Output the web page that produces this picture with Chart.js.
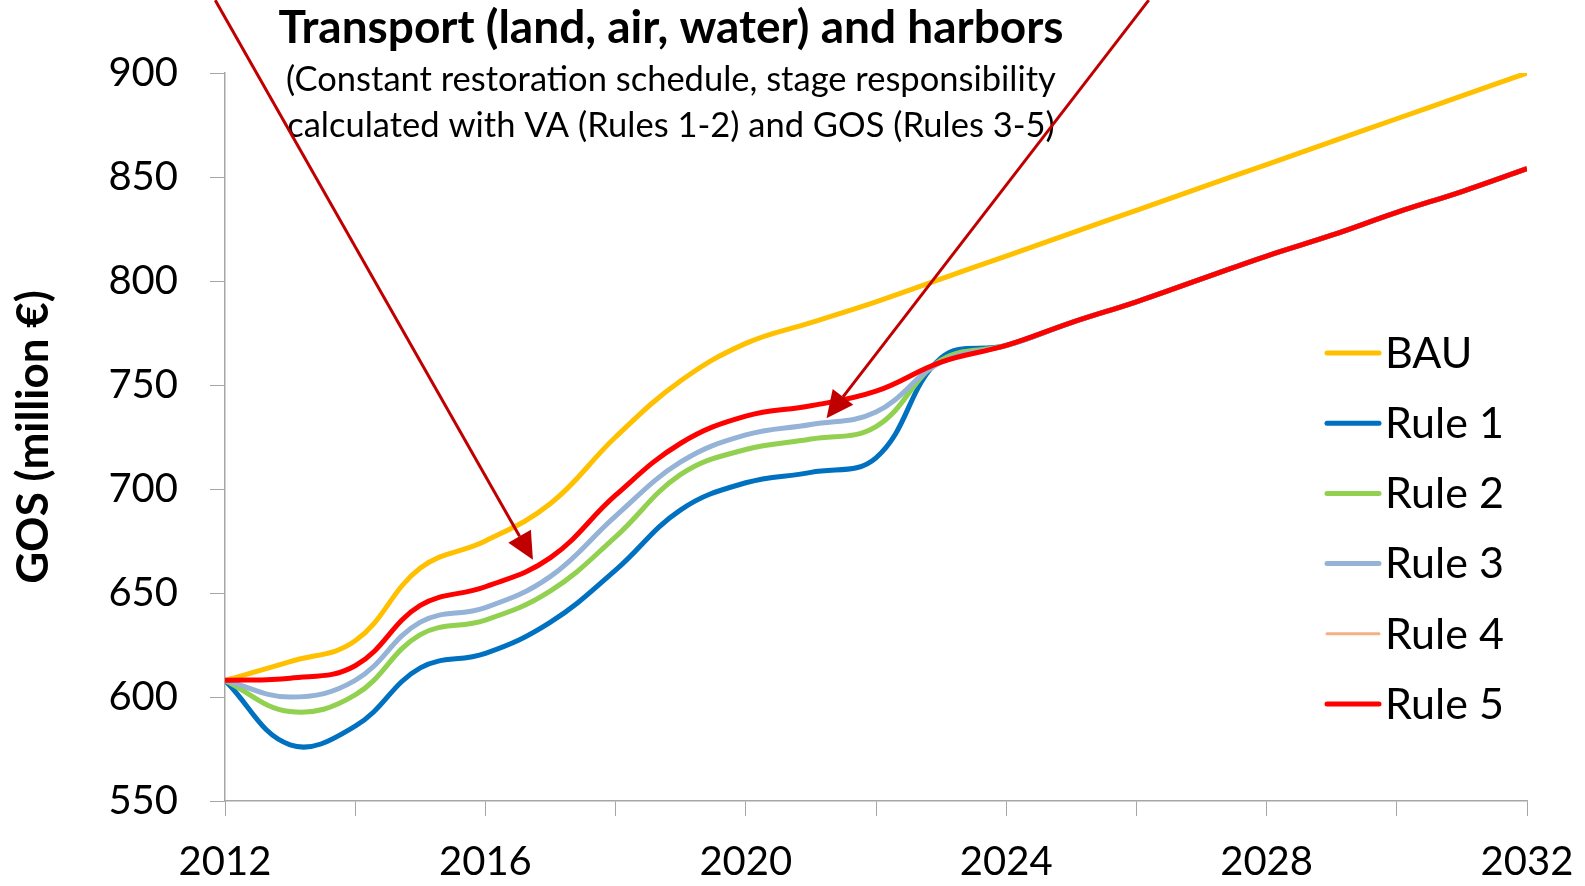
<!DOCTYPE html>
<html>
<head>
<meta charset="utf-8">
<script src="https://cdn.jsdelivr.net/npm/chart.js@4/dist/chart.umd.min.js"></script>
<style>
  html, body { margin: 0; padding: 0; background: #fff; }
  #wrap { width: 1585px; height: 886px; position: relative; }
</style>
</head>
<body>
<div id="wrap"><canvas id="chart"></canvas></div>
<script>
const years = [2012, 2013, 2014, 2015, 2016, 2017, 2018, 2019, 2020, 2021, 2022,
               2023, 2024, 2025, 2026, 2027, 2028, 2029, 2030, 2031, 2032]

const bau   = [608, 617, 627, 662, 675, 693, 725, 752, 770, 780, 790, 801, 812, 823, 834, 845, 856, 867, 878, 889, 900]
const rule1 = [608, 577, 586, 614, 621, 636, 661, 690, 703, 708, 715, 763, 769, 780, 790, 801, 812, 822, 833, 843, 854]
const rule2 = [608, 593, 601, 630, 637, 651, 677, 707, 719, 724, 730, 762, 769, 780, 790, 801, 812, 822, 833, 843, 854]
const rule3 = [608, 600, 608, 636, 643, 658, 687, 713, 726, 731, 737, 761, 769, 780, 790, 801, 812, 822, 833, 843, 854]
const rule4 = [608, 609, 615, 644, 653, 667, 697, 722, 735, 740, 747, 761, 769, 780, 790, 801, 812, 822, 833, 843, 854]
const rule5 = [608, 609, 615, 644, 653, 667, 697, 722, 735, 740, 747, 761, 769, 780, 790, 801, 812, 822, 833, 843, 854]

const seriesNames = ["BAU", "Rule 1", "Rule 2", "Rule 3", "Rule 4", "Rule 5"]
const seriesColors = ["#FFC000", "#0070C0", "#92D050", "#95B3D7", "#F4B183", "#FF0000"]
const seriesWidths = [5, 5, 5, 5, 3, 5]

const yTicks = [550, 600, 650, 700, 750, 800, 850, 900]
const xLabelEvery = 4

const titleLines = [
  "Transport (land, air, water) and harbors",
  "(Constant restoration schedule, stage responsibility",
  "calculated with VA (Rules 1-2) and GOS (Rules 3-5)"
]

// arrows in data units: [year, value] -> [year, value]
const arrows = [
  { from: [2011.85, 935], to: [2016.73, 666] },
  { from: [2026.19, 935], to: [2021.24, 734] }
]

const FONT = "Lato, 'Open Sans', sans-serif"

const allSeries = [bau, rule1, rule2, rule3, rule4, rule5]

const datasets = allSeries.map((vals, i) => ({
  label: seriesNames[i],
  data: years.map((yr, j) => ({ x: yr, y: vals[j] })),
  borderColor: seriesColors[i],
  backgroundColor: seriesColors[i],
  borderWidth: seriesWidths[i],
  pointRadius: 0,
  tension: 0.4,
  fill: false,
  order: allSeries.length - i
}))

function drawArrow(ctx, x1, y1, x2, y2) {
  const ang = Math.atan2(y2 - y1, x2 - x1)
  const headLen = 27
  const headHalf = 13
  const bx = x2 - headLen * Math.cos(ang)
  const by = y2 - headLen * Math.sin(ang)
  ctx.save()
  ctx.strokeStyle = "#C00000"
  ctx.fillStyle = "#C00000"
  ctx.lineWidth = 3
  ctx.beginPath()
  ctx.moveTo(x1, y1)
  ctx.lineTo(bx, by)
  ctx.stroke()
  ctx.beginPath()
  ctx.moveTo(x2, y2)
  ctx.lineTo(bx + headHalf * Math.sin(ang), by - headHalf * Math.cos(ang))
  ctx.lineTo(bx - headHalf * Math.sin(ang), by + headHalf * Math.cos(ang))
  ctx.closePath()
  ctx.fill()
  ctx.restore()
}

const overlay = {
  id: "overlay",
  afterDatasetsDraw(chart) {
    const { ctx, chartArea: a, scales: { x, y } } = chart

    // title block
    ctx.save()
    ctx.fillStyle = "#000"
    ctx.textAlign = "center"
    ctx.textBaseline = "alphabetic"
    const cx = a.left + 446
    ctx.font = "bold 46px " + FONT
    ctx.fillText(titleLines[0], cx, a.top - 30)
    ctx.font = "34.5px " + FONT
    ctx.fillText(titleLines[1], cx, a.top + 18)
    ctx.fillText(titleLines[2], cx, a.top + 64)
    ctx.restore()

    arrows.forEach(ar => drawArrow(ctx,
      x.getPixelForValue(ar.from[0]), y.getPixelForValue(ar.from[1]),
      x.getPixelForValue(ar.to[0]), y.getPixelForValue(ar.to[1])))

    // legend
    ctx.save()
    ctx.font = "43px " + FONT
    ctx.textBaseline = "middle"
    ctx.textAlign = "left"
    ctx.lineCap = "round"
    chart.data.datasets.forEach((ds, i) => {
      const ly = a.top + 280 + i * 70.2
      ctx.strokeStyle = ds.borderColor
      ctx.lineWidth = ds.borderWidth
      ctx.beginPath()
      ctx.moveTo(a.right - 200, ly)
      ctx.lineTo(a.right - 148, ly)
      ctx.stroke()
      ctx.fillStyle = "#000"
      ctx.fillText(ds.label, a.right - 142, ly + 1)
    })
    ctx.restore()
  }
}

new Chart(document.getElementById("chart"), {
  type: "line",
  data: { datasets },
  options: {
    responsive: true,
    maintainAspectRatio: false,
    animation: false,
    layout: { padding: { top: 73, right: 58, left: 0, bottom: 0 } },
    plugins: {
      legend: { display: false },
      tooltip: { enabled: false }
    },
    scales: {
      x: {
        type: "linear",
        min: years[0],
        max: years[years.length - 1],
        afterFit: scale => {
          scale.height = 85
          scale.paddingRight = 0
          scale.paddingLeft = 0
        },
        border: { color: "#A6A6A6", width: 1.5 },
        grid: { drawOnChartArea: false, drawTicks: true, tickLength: 15, color: "#A6A6A6", lineWidth: 1 },
        ticks: {
          stepSize: 2,
          autoSkip: false,
          maxRotation: 0,
          padding: 22,
          color: "#000",
          font: { size: 40, family: FONT },
          callback: v => (v % xLabelEvery === 0 ? String(v) : "")
        }
      },
      y: {
        min: yTicks[0],
        max: yTicks[yTicks.length - 1],
        afterFit: scale => { scale.width = 225 },
        border: { color: "#A6A6A6", width: 1.5 },
        grid: { drawOnChartArea: false, drawTicks: true, tickLength: 15, color: "#A6A6A6", lineWidth: 1 },
        ticks: {
          stepSize: 50,
          padding: 32,
          color: "#000",
          font: { size: 40, family: FONT }
        },
        title: {
          display: true,
          text: "GOS (million €)",
          color: "#000",
          padding: { top: 7, bottom: 0 },
          font: { size: 44, weight: "bold", family: FONT }
        }
      }
    }
  },
  plugins: [overlay]
})
</script>
</body>
</html>
